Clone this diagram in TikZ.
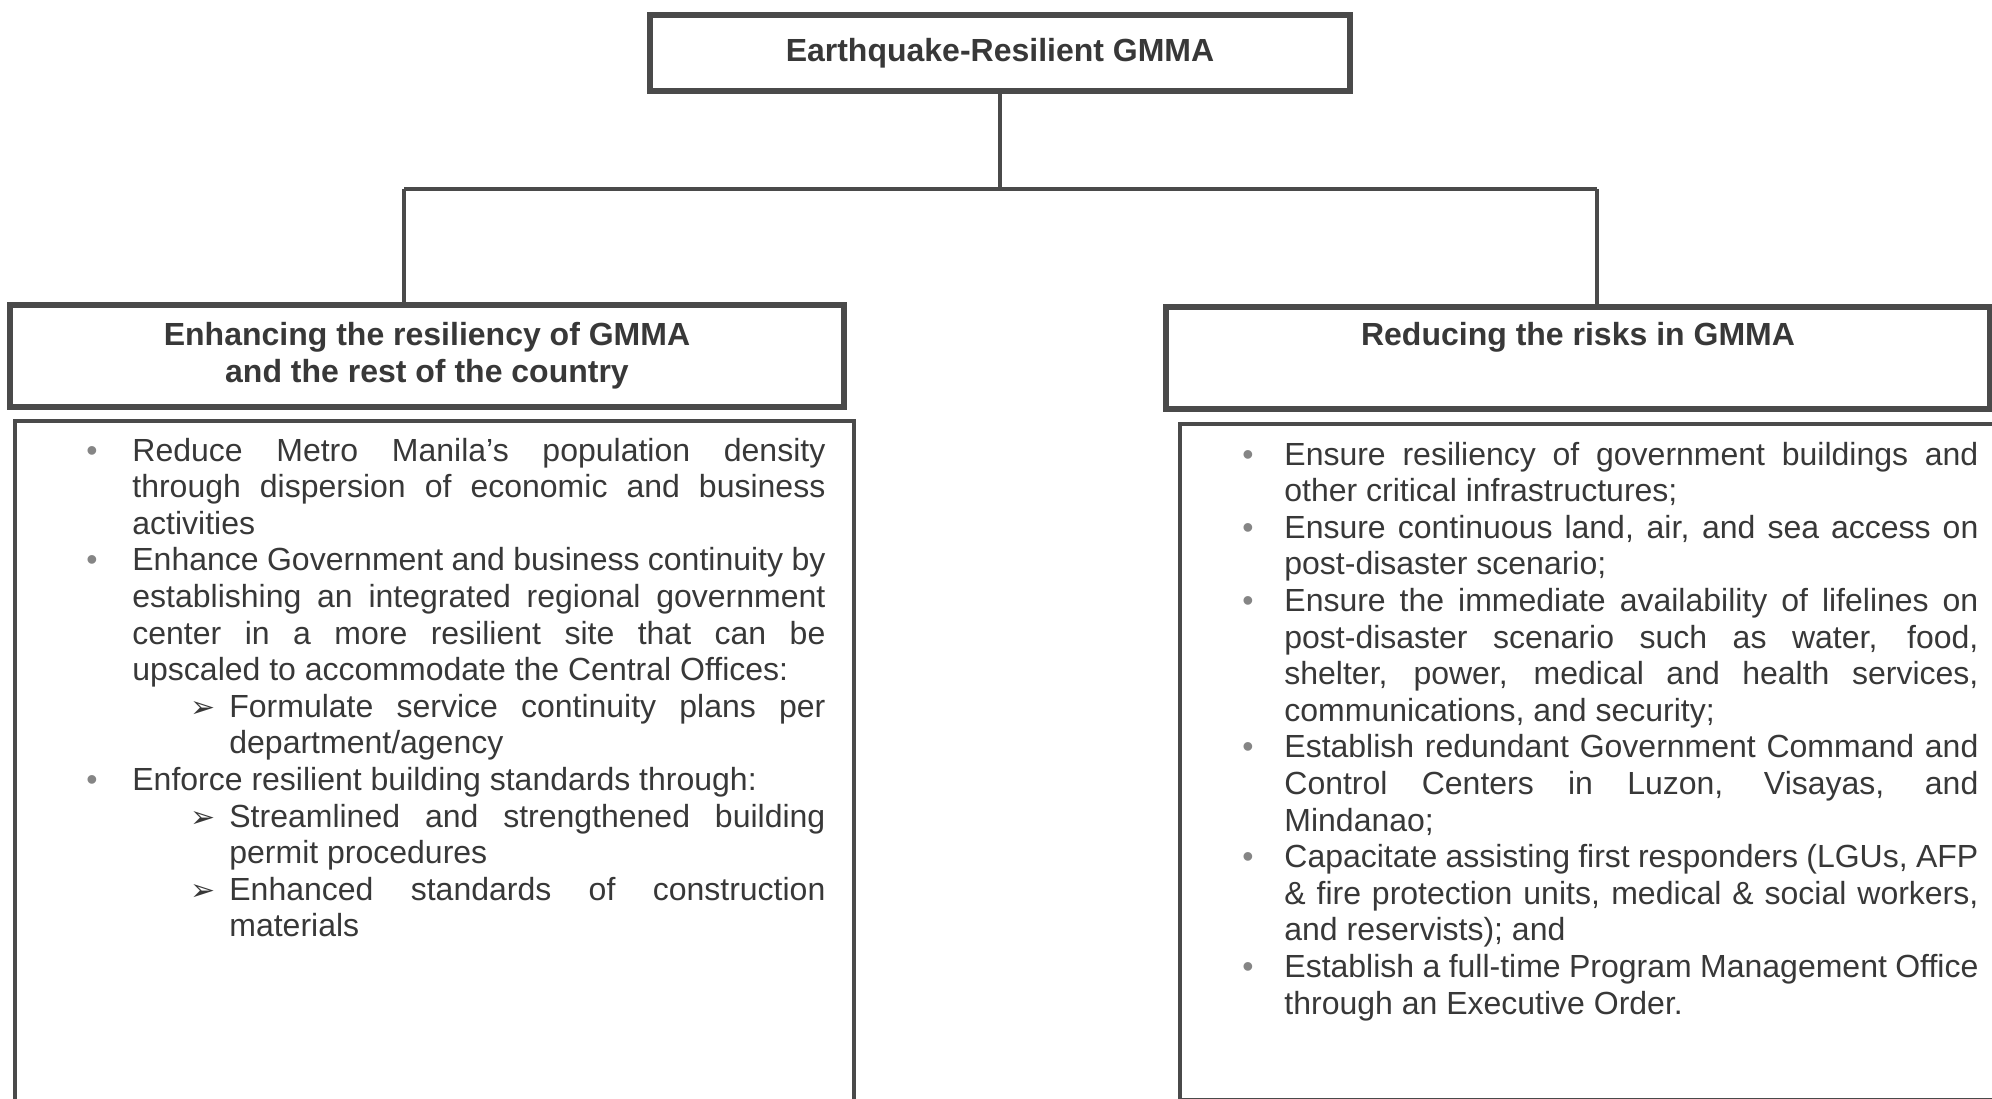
\documentclass[tikz,border=0pt]{standalone}
\usepackage{fontspec}
\setmainfont{Liberation Sans}
\newfontfamily\dingfont{DejaVu Sans}
\usetikzlibrary{positioning}

\definecolor{inkgray}{HTML}{383838}
\definecolor{linegray}{HTML}{4A4A4A}
\definecolor{dotgray}{HTML}{858585}

\hbadness=10000
\tolerance=10000
\newcommand{\mainpoint}[2][22pt]{{\leftskip=#1\noindent\llap{\makebox[#1][l]{\textcolor{dotgray}{•}}}#2\par}}
\newcommand{\subpoint}[1]{{\leftskip=71.5pt\noindent\llap{\makebox[19.5pt][l]{\dingfont\fontsize{15}{15}\selectfont ➢}}#1\par}}

\begin{document}
\begin{tikzpicture}[x=0.5pt, y=-0.5pt,
    hdrbox/.style={draw=linegray, line width=2.7pt, text=inkgray, align=center,
      font=\bfseries\fontsize{16}{18.3}\selectfont, inner sep=0pt},
    listbox/.style={draw=linegray, line width=2.2pt, inner sep=0pt},
    itemlist/.style={text=inkgray, align=justify, inner sep=0pt, anchor=base west,
      font=\fontsize{16}{18.3}\selectfont},
    link/.style={draw=linegray, line width=2.4pt}]
  \useasboundingbox (0,0) rectangle (1992,1098);

  \node[hdrbox, minimum width=350pt, minimum height=38pt] (top) at (1000,53) {Earthquake-Resilient GMMA};
  \node[hdrbox, minimum width=417pt, minimum height=51pt] (hdrL) at (427,356)
    {Enhancing the resiliency of GMMA\\and the rest of the country};
  \node[hdrbox, minimum width=412pt, minimum height=51pt] (hdrR) at (1578,358)
    {Reducing the risks in GMMA\\\strut};
  \node[listbox, minimum width=419.5pt, minimum height=340pt, anchor=north west] (boxL) at (13,419) {};
  \node[listbox, minimum width=420pt, minimum height=338pt, anchor=north west] (boxR) at (1178,422) {};

  \coordinate (jL) at (404,189);
  \coordinate (jR) at (1597,189);
  \draw[link] (top.south) -- (top.south |- jL);
  \draw[link] (jL) -- (jR);
  \draw[link] (jL) -- (jL |- hdrL.north);
  \draw[link] (jR) -- (jR |- hdrR.north);

  \node[itemlist, text width=369.5pt] (listL) at (86,461) {%
    \mainpoint[23pt]{Reduce Metro Manila’s population density\linebreak through dispersion of economic and business\linebreak activities}%
    \mainpoint[23pt]{Enhance Government and business continuity by\linebreak establishing an integrated regional government\linebreak center in a more resilient site that can be\linebreak upscaled to accommodate the Central Offices:}%
    \subpoint{Formulate service continuity plans per\linebreak department/agency}%
    \mainpoint[23pt]{Enforce resilient building standards through:}%
    \subpoint{Streamlined and strengthened building\linebreak permit procedures}%
    \subpoint{Enhanced standards of construction\linebreak materials}%
  };

  \node[itemlist, text width=368pt] (listR) at (1242,465) {%
    \mainpoint[21pt]{Ensure resiliency of government buildings and\linebreak other critical infrastructures;}%
    \mainpoint[21pt]{Ensure continuous land, air, and sea access on\linebreak post-disaster scenario;}%
    \mainpoint[21pt]{Ensure the immediate availability of lifelines on\linebreak post-disaster scenario such as water, food,\linebreak shelter, power, medical and health services,\linebreak communications, and security;}%
    \mainpoint[21pt]{Establish redundant Government Command and\linebreak Control Centers in Luzon, Visayas, and\linebreak Mindanao;}%
    \mainpoint[21pt]{Capacitate assisting first responders (LGUs, AFP\linebreak \& fire protection units, medical \& social workers,\linebreak and reservists); and}%
    \mainpoint[21pt]{Establish a full-time Program Management Office\linebreak through an Executive Order.}%
  };
\end{tikzpicture}
\end{document}
